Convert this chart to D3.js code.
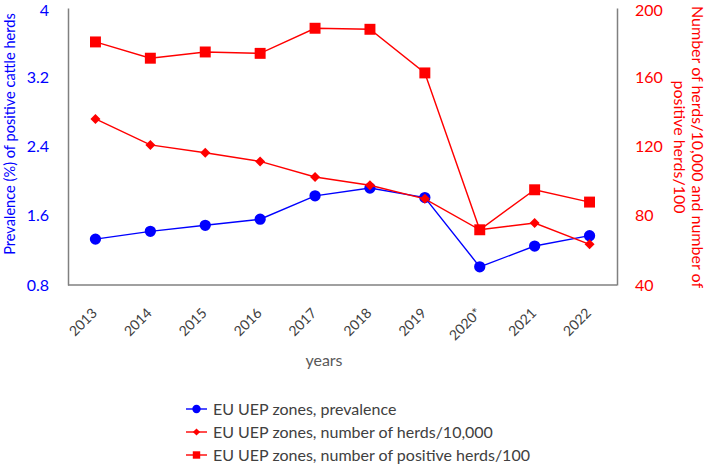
<!DOCTYPE html>
<html>
<head>
<meta charset="utf-8">
<script src="https://cdnjs.cloudflare.com/ajax/libs/d3/7.8.5/d3.min.js"></script>
<style>
  body { margin: 0; background: #fff; }
  text { font-family: Lato, "Open Sans", sans-serif; }
</style>
</head>
<body>
<svg id="chart" width="709" height="467"></svg>
<script>
var years = ["2013", "2014", "2015", "2016", "2017", "2018", "2019", "2020*", "2021", "2022"];
var prevalence = [1.33, 1.42, 1.49, 1.56, 1.83, 1.92, 1.81, 1.01, 1.25, 1.37];
var herds10000 = [135.9, 120.9, 116.4, 111.4, 102.4, 97.6, 89.8, 71.9, 75.8, 63.5];
var positive100 = [180.4, 171, 174.6, 173.8, 188.3, 187.7, 162.5, 71.9, 95, 87.9];
var leftTicks = [0.8, 1.6, 2.4, 3.2, 4];
var rightTicks = [40, 80, 120, 160, 200];
var legendLabels = ["EU UEP zones, prevalence", "EU UEP zones, number of herds/10,000", "EU UEP zones, number of positive herds/100"];

var blue = "#0000ff", red = "#ff0000", axisGrey = "#808080", textGrey = "#404040";
var svg = d3.select("#chart");
var pLeft = 68, pRight = 617, pTop = 8, pBottom = 285;

var x = d3.scalePoint().domain(years).range([pLeft, pRight]).padding(0.5);
var yL = d3.scaleLinear().domain([0.8, 4]).range([pBottom, pTop]);
var yR = d3.scaleLinear().domain([40, 200]).range([pBottom, pTop]);

// axes
var axL = svg.append("g").attr("transform", "translate(" + pLeft + ",0)")
    .call(d3.axisLeft(yL).tickValues(leftTicks).tickSize(0).tickPadding(19).tickFormat(d3.format("")));
axL.select(".domain").attr("stroke", axisGrey).attr("stroke-width", 1.5);
axL.selectAll("text").attr("fill", blue).style("font-size", "16px");

var axR = svg.append("g").attr("transform", "translate(" + pRight + ",0)")
    .call(d3.axisRight(yR).tickValues(rightTicks).tickSize(0).tickPadding(18));
axR.select(".domain").attr("stroke", axisGrey).attr("stroke-width", 1.5);
axR.selectAll("text").attr("fill", red).style("font-size", "16px");
// keep the top labels inside the picture
axL.selectAll(".tick text").filter(function (d) { return d === 4; }).attr("y", 2);
axR.selectAll(".tick text").filter(function (d) { return d === 200; }).attr("y", 2);

var axB = svg.append("g").attr("transform", "translate(0," + pBottom + ")")
    .call(d3.axisBottom(x).tickSize(0).tickPadding(0));
axB.select(".domain").attr("stroke", axisGrey).attr("stroke-width", 1.5).attr("d", "M" + pLeft + ",0H" + pRight);
axB.selectAll("text")
    .attr("fill", textGrey).style("font-size", "14px")
    .attr("text-anchor", "end").attr("dy", 0).attr("y", 0)
    .attr("transform", "translate(2,29) rotate(-45)");

// axis titles
svg.append("text").attr("transform", "translate(15,134) rotate(-90)")
    .attr("text-anchor", "middle").attr("fill", blue).style("font-size", "14.6px")
    .text("Prevalence (%) of positive cattle herds");
var rt = svg.append("text").attr("transform", "translate(692,147) rotate(90)")
    .attr("text-anchor", "middle").attr("fill", red).style("font-size", "16px");
rt.append("tspan").attr("x", 0).attr("dy", 0).text("Number of herds/10,000 and number of");
rt.append("tspan").attr("x", 0).attr("dy", "1.15em").text("positive herds/100");

svg.append("text").attr("x", 324).attr("y", 366).attr("text-anchor", "middle")
    .attr("fill", "#595959").style("font-size", "16px").text("years");

// series
function drawSeries(vals, scale, color, shape, size, rot) {
    var g = svg.append("g");
    g.append("path").datum(vals)
        .attr("fill", "none").attr("stroke", color).attr("stroke-width", 1.4)
        .attr("d", d3.line().x(function (d, i) { return x(years[i]); }).y(function (d) { return scale(d); }));
    g.selectAll("path.m").data(vals).enter().append("path").attr("class", "m")
        .attr("fill", color)
        .attr("transform", function (d, i) { return "translate(" + x(years[i]) + "," + scale(d) + ") rotate(" + rot + ")"; })
        .attr("d", d3.symbol().type(shape).size(size));
}
drawSeries(prevalence, yL, blue, d3.symbolCircle, 100, 0);
drawSeries(herds10000, yR, red, d3.symbolSquare, 50, 45);
drawSeries(positive100, yR, red, d3.symbolSquare, 120, 0);

// legend
var legend = [
    { color: blue, shape: d3.symbolCircle, size: 55, rot: 0 },
    { color: red, shape: d3.symbolSquare, size: 26, rot: 45 },
    { color: red, shape: d3.symbolSquare, size: 55, rot: 0 }
];
var lg = svg.append("g").attr("transform", "translate(186,409)");
legend.forEach(function (d, i) {
    var row = lg.append("g").attr("transform", "translate(0," + i * 23 + ")");
    row.append("line").attr("x1", 0).attr("x2", 21).attr("stroke", d.color).attr("stroke-width", 1.4);
    row.append("path").attr("transform", "translate(10.5,0) rotate(" + d.rot + ")").attr("fill", d.color)
        .attr("d", d3.symbol().type(d.shape).size(d.size));
    row.append("text").attr("x", 27).attr("dy", "0.35em").attr("fill", textGrey)
        .style("font-size", "16px").text(legendLabels[i]);
});
</script>
</body>
</html>
